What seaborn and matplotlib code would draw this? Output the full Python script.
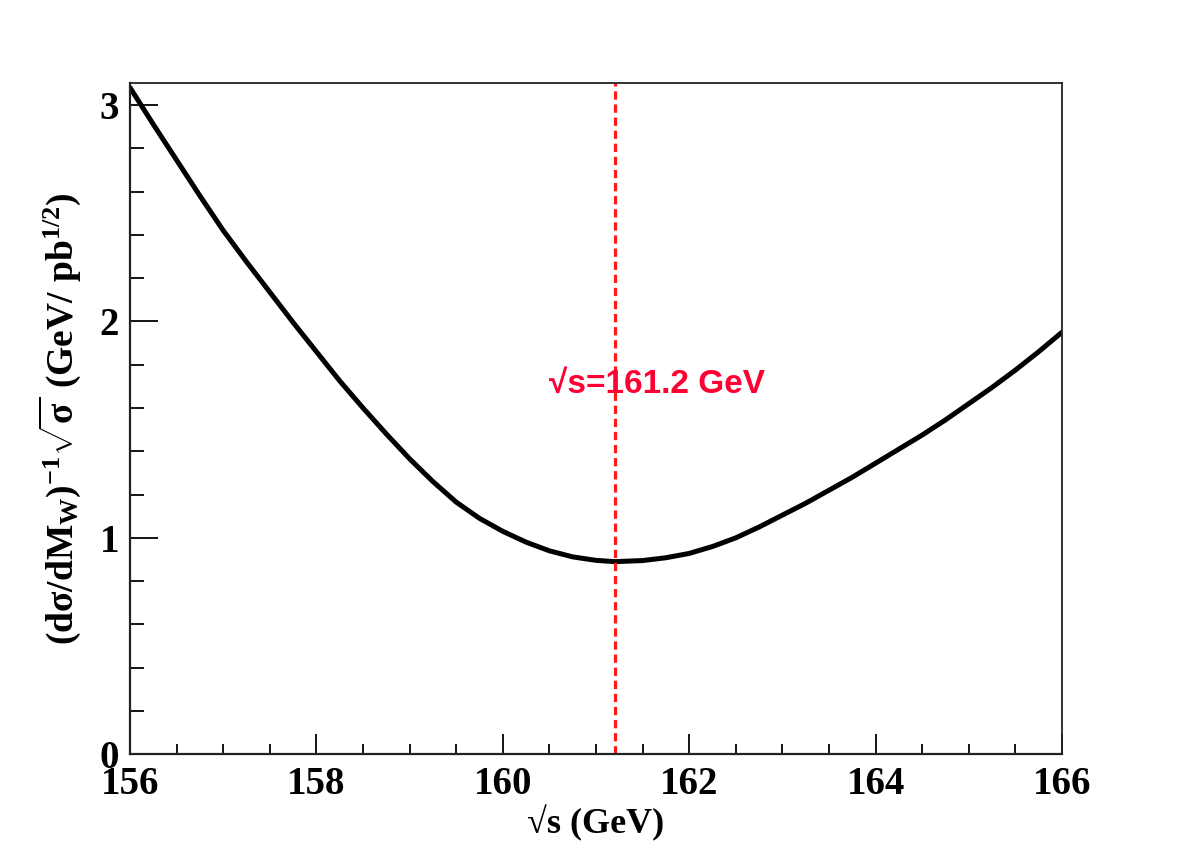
import matplotlib
matplotlib.use("Agg")
import matplotlib.pyplot as plt
import seaborn as sns
import pandas as pd
from matplotlib.ticker import MultipleLocator

# data
sqrt_s = [156.00, 156.25, 156.50, 156.75, 157.00, 157.25, 157.50, 157.75, 158.00,
          158.25, 158.50, 158.75, 159.00, 159.25, 159.50, 159.75, 160.00, 160.25,
          160.50, 160.75, 161.00, 161.20, 161.50, 161.75, 162.00, 162.25, 162.50,
          162.75, 163.00, 163.25, 163.50, 163.75, 164.00, 164.25, 164.50, 164.75,
          165.00, 165.25, 165.50, 165.75, 166.00]
sensitivity = [3.08, 2.91, 2.745, 2.58, 2.42, 2.275, 2.135, 1.995, 1.86,
               1.725, 1.60, 1.48, 1.365, 1.26, 1.165, 1.09, 1.03, 0.98,
               0.94, 0.912, 0.896, 0.890, 0.895, 0.908, 0.928, 0.96, 1.00,
               1.05, 1.105, 1.16, 1.22, 1.28, 1.345, 1.41, 1.475, 1.545,
               1.62, 1.695, 1.775, 1.86, 1.95]
optimum = 161.2
annotation = "\u221as=161.2 GeV"
x_ticks = [156, 158, 160, 162, 164, 166]
y_ticks = [0, 1, 2, 3]

sns.set_theme(style="ticks")
plt.rcParams['font.family'] = ['Liberation Serif', 'DejaVu Serif']
plt.rcParams['font.weight'] = 'bold'
plt.rcParams['mathtext.fontset'] = 'custom'
plt.rcParams['mathtext.rm'] = 'Liberation Serif:bold'
plt.rcParams['mathtext.it'] = 'Liberation Serif:bold'
plt.rcParams['mathtext.bf'] = 'Liberation Serif:bold'
for key in ['text.color', 'axes.labelcolor', 'xtick.color', 'ytick.color']:
    plt.rcParams[key] = 'black'

df = pd.DataFrame({"x": sqrt_s, "y": sensitivity})

fig = plt.figure(figsize=(11.82, 8.48), dpi=100)
ax = fig.add_axes([0.110, 0.1105, 0.7885, 0.7913])

sns.lineplot(data=df, x="x", y="y", ax=ax, color="black", linewidth=3.6, sort=False)
ax.axvline(optimum, color="#ff1a1a", linewidth=2.3, linestyle=(0, (2.6, 1.5)))

ax.set_xlim(156, 166)
ax.set_ylim(0, 3.1)
ax.set_xticks(x_ticks)
ax.set_yticks(y_ticks)
ax.xaxis.set_minor_locator(MultipleLocator(0.5))
ax.yaxis.set_minor_locator(MultipleLocator(0.2))

ax.tick_params(axis='x', which='major', direction='in', length=14.4, width=1.3,
               labelsize=28, pad=8.5, top=False, color='black', labelcolor='black')
ax.tick_params(axis='x', which='minor', direction='in', length=7.2, width=1.3, top=False,
               color='black')
ax.tick_params(axis='y', which='major', direction='in', length=20, width=1.3,
               labelsize=28, pad=8, right=False, color='black', labelcolor='black')
ax.tick_params(axis='y', which='minor', direction='in', length=10, width=1.3, right=False,
               color='black')
for lab in ax.get_xticklabels() + ax.get_yticklabels():
    lab.set_fontweight('bold')

for side in ['left', 'bottom', 'top', 'right']:
    ax.spines[side].set_visible(True)
    ax.spines[side].set_color('#222222')
ax.spines['left'].set_linewidth(1.6)
ax.spines['bottom'].set_linewidth(1.6)
ax.spines['top'].set_linewidth(1.3)
ax.spines['right'].set_linewidth(1.3)

ax.set_xlabel("\u221as (GeV)", fontsize=26, fontweight='bold', labelpad=1, color='black')
ax.set_ylabel(r"$(\mathrm{d}\sigma/\mathrm{dM}_{\mathrm{W}})^{-1}\sqrt{\sigma}\ (\mathrm{GeV/\ pb}^{1/2})$",
              fontsize=27, labelpad=12, color='black')

ax.text(0.45, 0.552, annotation, transform=ax.transAxes, color="#ff0033",
        fontsize=24, fontweight='bold', family=['Liberation Sans', 'DejaVu Sans'],
        ha='left', va='center')

fig.savefig("out.png", dpi=100)
